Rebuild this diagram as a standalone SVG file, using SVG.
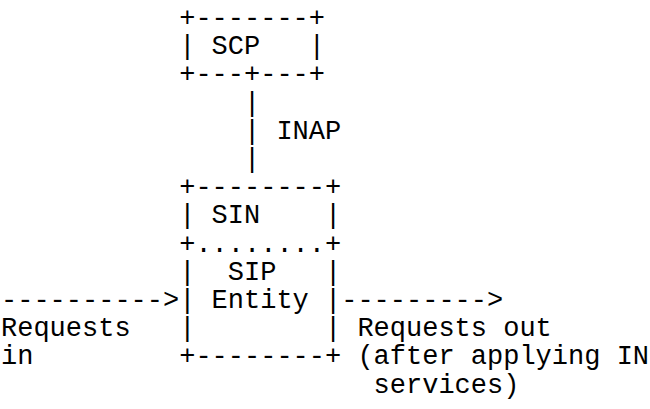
<svg xmlns="http://www.w3.org/2000/svg" width="650" height="409" viewBox="0 0 650 409">
  <style>
    text { font-family: "Liberation Mono", "DejaVu Sans Mono", monospace; font-size: 27px; fill: #000; white-space: pre; }
  </style>
  <rect width="650" height="409" fill="#fff"/>
  <!-- character grid: column c at x = 1 + 16.2*c, row r baseline at y = 26 + 28.2*r -->
  <g id="scp">
    <text x="179.2" y="26" xml:space="preserve">+-------+</text>
    <text x="179.2" y="54.2" xml:space="preserve">| SCP   |</text>
    <text x="179.2" y="82.4" xml:space="preserve">+---+---+</text>
  </g>
  <g id="sin-sip-entity">
    <text x="179.2" y="195.2" xml:space="preserve">+--------+</text>
    <text x="179.2" y="223.4" xml:space="preserve">| SIN    |</text>
    <text x="179.2" y="251.6" xml:space="preserve">+........+</text>
    <text x="179.2" y="279.8" xml:space="preserve">|  SIP   |</text>
    <text x="179.2" y="308" xml:space="preserve">| Entity |</text>
    <text x="179.2" y="336.2" xml:space="preserve">|        |</text>
    <text x="179.2" y="364.4" xml:space="preserve">+--------+</text>
  </g>
  <g id="connectors">
    <g id="inap-link">
      <text x="244" y="110.6">|</text>
      <text x="244" y="138.8">|</text>
      <text x="276.4" y="138.8">INAP</text>
      <text x="244" y="167">|</text>
    </g>
    <g id="requests-in">
      <text x="1" y="308" xml:space="preserve">----------&gt;</text>
      <text x="1" y="336.2">Requests</text>
      <text x="1" y="364.4">in</text>
    </g>
    <g id="requests-out">
      <text x="341.2" y="308" xml:space="preserve">---------&gt;</text>
      <text x="357.4" y="336.2">Requests out</text>
      <text x="357.4" y="364.4">(after applying IN</text>
      <text x="373.6" y="392.6">services)</text>
    </g>
  </g>
</svg>
